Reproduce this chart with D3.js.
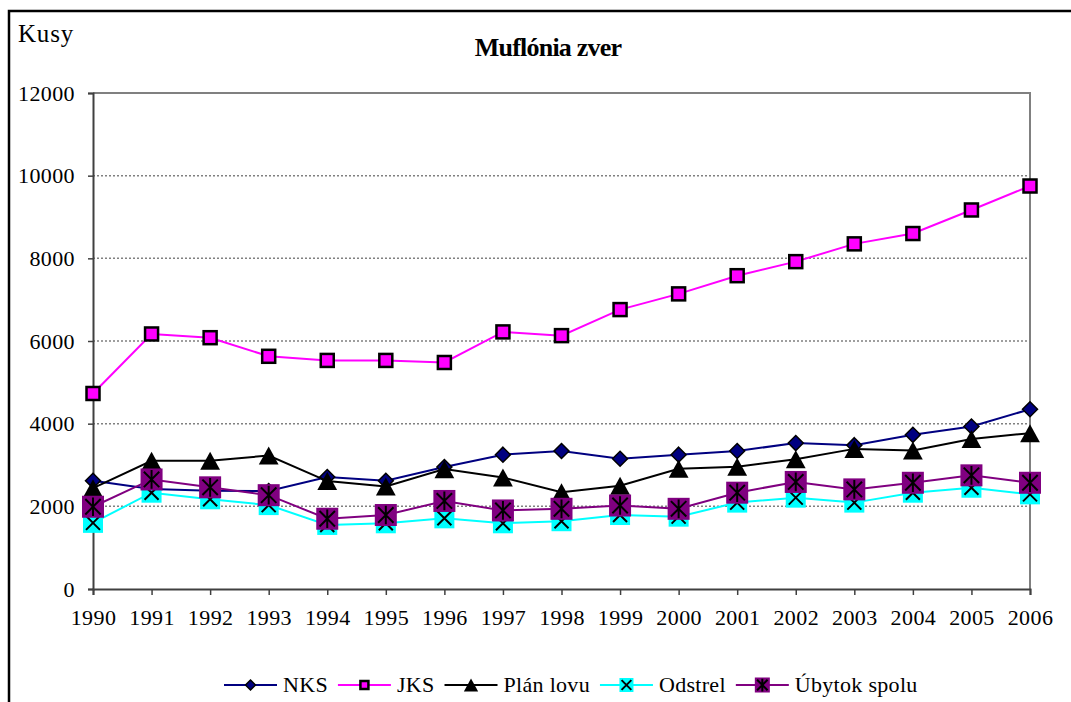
<!DOCTYPE html>
<html>
<head>
<meta charset="utf-8">
<script src="https://cdn.jsdelivr.net/npm/d3@7"></script>
<style>
  body { margin: 0; background: #fff; }
  text { font-family: "Liberation Serif", "Times New Roman", serif; fill: #000; }
</style>
</head>
<body>
<svg id="chart" width="1071" height="702"></svg>
<script>
// chart data
var years = [1990, 1991, 1992, 1993, 1994, 1995, 1996, 1997, 1998, 1999, 2000, 2001, 2002, 2003, 2004, 2005, 2006];
var nks     = [2620, 2420, 2380, 2370, 2710, 2620, 2950, 3250, 3340, 3150, 3250, 3340, 3530, 3480, 3730, 3930, 4350];
var jks     = [4730, 6170, 6080, 5630, 5530, 5530, 5480, 6220, 6130, 6760, 7140, 7580, 7920, 8350, 8600, 9170, 9750];
var planLovu = [2440, 3100, 3100, 3230, 2610, 2480, 2900, 2700, 2340, 2500, 2910, 2960, 3140, 3390, 3350, 3630, 3770];
var odstrel = [1600, 2330, 2170, 2030, 1550, 1590, 1710, 1590, 1640, 1790, 1750, 2090, 2210, 2090, 2330, 2450, 2290];
var ubytok  = [1990, 2650, 2460, 2270, 1700, 1790, 2130, 1900, 1940, 2020, 1940, 2330, 2590, 2410, 2570, 2750, 2570];
var yTicks = [0, 2000, 4000, 6000, 8000, 10000, 12000];

var seriesList = [
  {name: "NKS", values: nks, color: "#000080", marker: "diamond"},
  {name: "JKS", values: jks, color: "#FF00FF", marker: "square"},
  {name: "Plán lovu", values: planLovu, color: "#000000", marker: "triangle"},
  {name: "Odstrel", values: odstrel, color: "#00FFFF", marker: "cross"},
  {name: "Úbytok spolu", values: ubytok, color: "#800080", marker: "star"}
];

var svg = d3.select("#chart");
var plotLeft = 93, plotRight = 1030, plotTop = 93, plotBottom = 589;

var x = d3.scalePoint().domain(years).range([plotLeft, plotRight]);
var y = d3.scaleLinear().domain([0, 12000]).range([plotBottom, plotTop]);

// outer frame (only top and left edges are visible)
svg.append("path")
  .attr("d", "M9,720 L9,11 L1080,11")
  .attr("fill", "none")
  .attr("stroke", "#000")
  .attr("stroke-width", 2.5);

// gridlines
svg.append("g").selectAll("line")
  .data(yTicks.filter(function(d){ return d > 0 && d < 12000; }))
  .enter().append("line")
    .attr("x1", plotLeft).attr("x2", plotRight)
    .attr("y1", function(d){ return y(d); })
    .attr("y2", function(d){ return y(d); })
    .attr("stroke", "#808080")
    .attr("stroke-width", 1.5)
    .attr("stroke-dasharray", "2,2");

// plot border top/right
svg.append("path")
  .attr("d", "M" + plotLeft + "," + y(12000) + " L" + plotRight + "," + y(12000) + " L" + plotRight + "," + plotBottom)
  .attr("fill", "none")
  .attr("stroke", "#808080")
  .attr("stroke-width", 2);

// y axis
var yAxis = svg.append("g")
  .attr("transform", "translate(" + plotLeft + ",0)")
  .call(d3.axisLeft(y).tickValues(yTicks).tickSize(5).tickPadding(13).tickFormat(d3.format("d")));
yAxis.select(".domain").attr("stroke", "#404040").attr("stroke-width", 2);
yAxis.selectAll(".tick line").attr("stroke", "#404040").attr("stroke-width", 1.5);
yAxis.selectAll(".tick text")
  .style("font-family", "Liberation Serif")
  .style("font-size", "22px")
  .style("letter-spacing", "0.4px")
  .attr("fill", "#000");

// x axis
var xAxis = svg.append("g")
  .attr("transform", "translate(0," + plotBottom + ")")
  .call(d3.axisBottom(x).tickSize(6).tickPadding(14));
xAxis.select(".domain").attr("stroke", "#404040").attr("stroke-width", 2);
xAxis.selectAll(".tick line").attr("stroke", "#404040").attr("stroke-width", 1.5);
xAxis.selectAll(".tick text")
  .style("font-family", "Liberation Serif")
  .style("font-size", "22px")
  .style("letter-spacing", "0.4px")
  .attr("fill", "#000");

// titles
svg.append("text")
  .attr("x", 18).attr("y", 42)
  .style("font-size", "25px")
  .style("letter-spacing", "0.8px")
  .text("Kusy");

svg.append("text")
  .attr("x", 548).attr("y", 56)
  .attr("text-anchor", "middle")
  .style("font-size", "26px")
  .style("font-weight", "bold")
  .style("letter-spacing", "-0.8px")
  .text("Muflónia zver");

// marker drawing
function drawMarker(g, type, color, s) {
  if (type == "diamond") {
    g.append("path")
      .attr("d", "M0," + (-s) + " L" + s + ",0 L0," + s + " L" + (-s) + ",0 Z")
      .attr("fill", color).attr("stroke", "#000").attr("stroke-width", 1.5);
  }
  if (type == "square") {
    g.append("rect")
      .attr("x", -s).attr("y", -s).attr("width", 2 * s).attr("height", 2 * s)
      .attr("fill", color).attr("stroke", "#000").attr("stroke-width", 2.5);
  }
  if (type == "triangle") {
    g.append("path")
      .attr("d", "M0," + (-s) + " L" + (s * 1.1) + "," + s + " L" + (-s * 1.1) + "," + s + " Z")
      .attr("fill", "#000");
  }
  if (type == "cross") {
    g.append("rect")
      .attr("x", -s).attr("y", -s).attr("width", 2 * s).attr("height", 2 * s)
      .attr("fill", color);
    var c = s * 0.7;
    g.append("path")
      .attr("d", "M" + (-c) + "," + (-c) + " L" + c + "," + c + " M" + c + "," + (-c) + " L" + (-c) + "," + c)
      .attr("stroke", "#000").attr("stroke-width", 2);
  }
  if (type == "star") {
    g.append("rect")
      .attr("x", -s).attr("y", -s).attr("width", 2 * s).attr("height", 2 * s)
      .attr("fill", color);
    var k = s * 0.7;
    g.append("path")
      .attr("d", "M" + (-k) + "," + (-k) + " L" + k + "," + k + " M" + k + "," + (-k) + " L" + (-k) + "," + k +
                 " M0," + (-s * 0.85) + " L0," + (s * 0.85))
      .attr("stroke", "#000").attr("stroke-width", 2);
  }
}

var markerSize = {diamond: 7.5, square: 6.5, triangle: 9, cross: 10, star: 11};
var legendSize = {diamond: 5, square: 4, triangle: 6.5, cross: 7, star: 7.5};

var line = d3.line()
  .x(function(d, i){ return x(years[i]); })
  .y(function(d){ return y(d); });

seriesList.forEach(function(s) {
  var g = svg.append("g").attr("class", "series");
  g.append("path")
    .attr("d", line(s.values))
    .attr("fill", "none")
    .attr("stroke", s.color)
    .attr("stroke-width", 2);
  s.values.forEach(function(v, i) {
    var m = g.append("g").attr("transform", "translate(" + x(years[i]) + "," + y(v) + ")");
    drawMarker(m, s.marker, s.color, markerSize[s.marker]);
  });
});

// legend
var legend = svg.append("g");
var lx = 224, ly = 685;
seriesList.forEach(function(s) {
  var item = legend.append("g");
  item.append("line")
    .attr("x1", lx).attr("x2", lx + 53)
    .attr("y1", ly).attr("y2", ly)
    .attr("stroke", s.color).attr("stroke-width", 2);
  var m = item.append("g").attr("transform", "translate(" + (lx + 26.5) + "," + ly + ")");
  drawMarker(m, s.marker, s.color, legendSize[s.marker]);
  var t = item.append("text")
    .attr("x", lx + 59).attr("y", ly + 7)
    .style("font-size", "22px")
    .style("letter-spacing", "0.3px")
    .text(s.name);
  lx = lx + 59 + t.node().getComputedTextLength() + 10;
});
</script>
</body>
</html>
